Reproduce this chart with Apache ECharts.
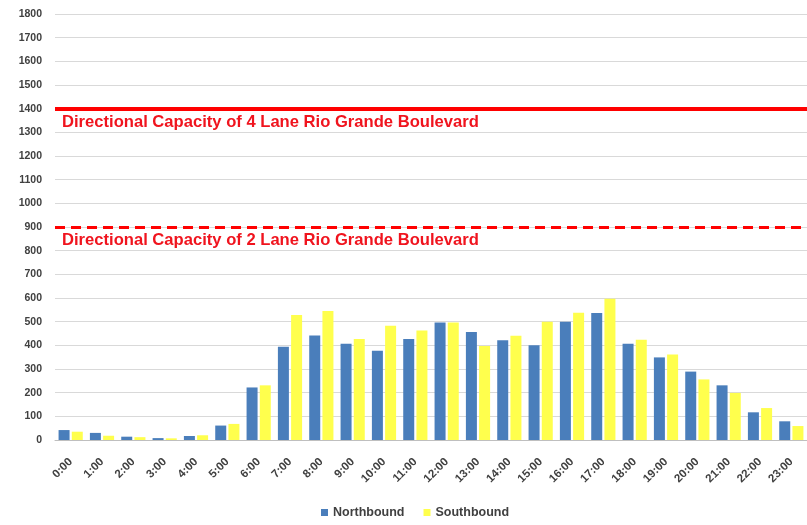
<!DOCTYPE html>
<html>
<head>
<meta charset="utf-8">
<script src="https://cdn.jsdelivr.net/npm/echarts@6/dist/echarts.min.js"></script>
<style>html,body{margin:0;padding:0;background:#fff;}#c{width:807px;height:525px;}</style>
</head>
<body>
<div id="c"></div>
<script>
const hours = ['0:00','1:00','2:00','3:00','4:00','5:00','6:00','7:00','8:00','9:00','10:00','11:00','12:00','13:00','14:00','15:00','16:00','17:00','18:00','19:00','20:00','21:00','22:00','23:00'];
const northbound = [42,30,14,8,17,61,222,394,442,407,377,427,497,456,421,400,500,537,407,349,289,231,117,79];
const southbound = [35,18,12,7,20,68,231,528,545,427,483,463,497,397,441,500,538,597,424,361,256,199,135,59];
const capacity4Lane = 1400;
const capacity2Lane = 900;
const label4Lane = 'Directional Capacity of 4 Lane Rio Grande Boulevard';
const label2Lane = 'Directional Capacity of 2 Lane Rio Grande Boulevard';

const chart = echarts.init(document.getElementById('c'));
const capLabel = {
  show: true, position: 'insideStartBottom', distance: [7, 5],
  color: '#f0141e', fontWeight: 'bold', fontSize: 16.6, fontFamily: 'Liberation Sans, Arial, sans-serif'
};
chart.setOption({
  animation: false,
  textStyle: { fontFamily: 'Liberation Sans, Arial, sans-serif' },
  grid: { left: 55, top: 14, width: 758, bottom: 85, containLabel: false },
  legend: {
    bottom: 1, left: 316, itemWidth: 7, itemHeight: 7, itemGap: 19, icon: 'rect',
    textStyle: { color: '#404040', fontSize: 12.5, fontWeight: 'bold' },
    data: ['Northbound', 'Southbound']
  },
  xAxis: {
    type: 'category', data: hours,
    axisLine: { lineStyle: { color: '#bfbfbf', width: 1 } },
    axisTick: { show: false },
    axisLabel: { rotate: 45, color: '#404040', fontSize: 11.5, fontWeight: 'bold', margin: 20, interval: 0 }
  },
  yAxis: {
    type: 'value', min: 0, max: 1800, interval: 100,
    axisLine: { show: false }, axisTick: { show: false },
    axisLabel: { color: '#404040', fontSize: 10.5, fontWeight: 'bold', margin: 13, formatter: v => String(v) },
    splitLine: { lineStyle: { color: '#d9d9d9', width: 1 } }
  },
  series: [
    {
      name: 'Northbound', type: 'bar', data: northbound, barWidth: 11, barGap: '20%',
      itemStyle: { color: '#4a7ebb' },
      markLine: {
        silent: true, symbol: 'none',
        data: [
          { yAxis: capacity4Lane, lineStyle: { color: '#ff0000', width: 4, type: 'solid' }, label: Object.assign({ formatter: label4Lane }, capLabel) },
          { yAxis: capacity2Lane, lineStyle: { color: '#ff0000', width: 3, type: [10, 6] }, label: Object.assign({ formatter: label2Lane }, capLabel) }
        ]
      }
    },
    {
      name: 'Southbound', type: 'bar', data: southbound, barWidth: 11,
      itemStyle: { color: '#ffff4d' }
    }
  ]
});
</script>
</body>
</html>
